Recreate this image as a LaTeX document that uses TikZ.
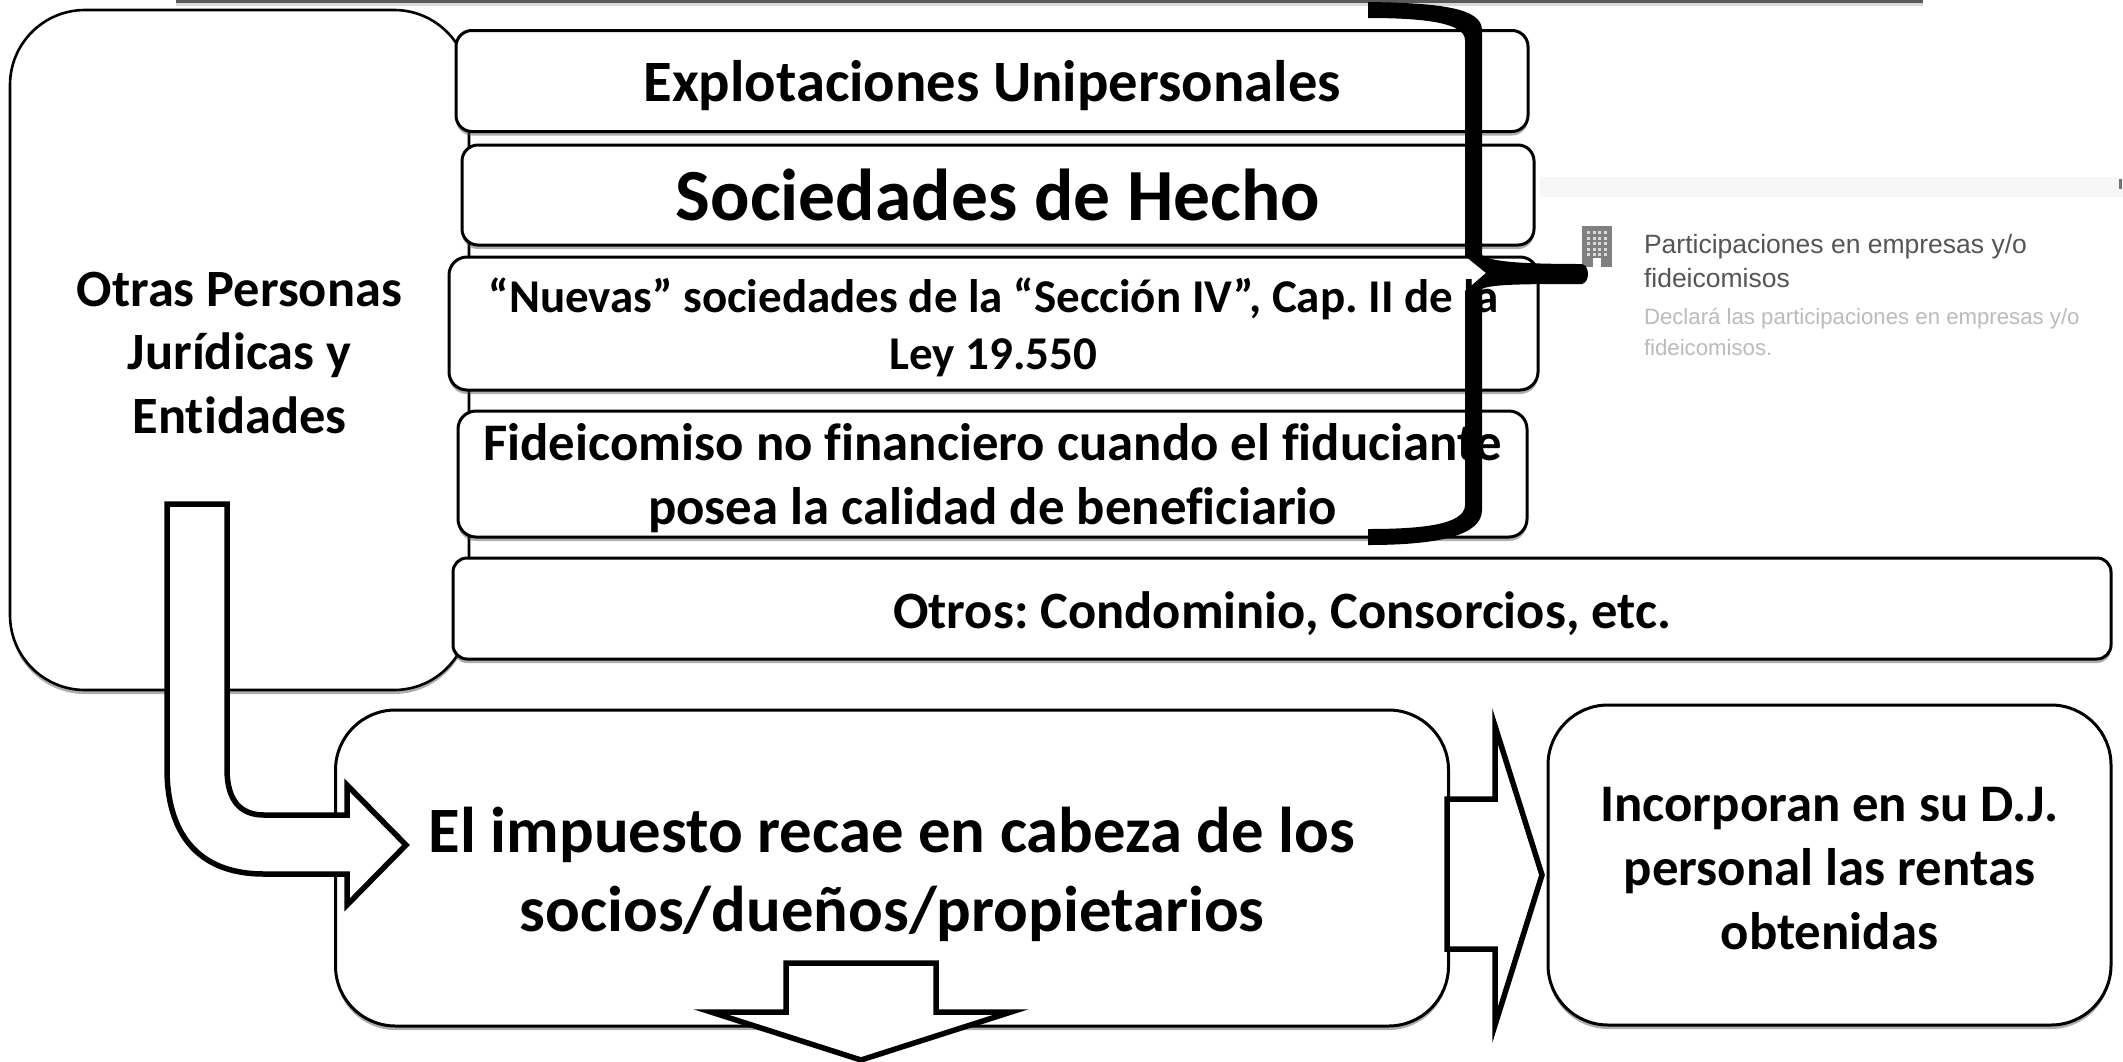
\documentclass[tikz,border=0pt]{standalone}
\usepackage{fontspec}
\setmainfont{Carlito}[Ligatures=CommonOff]
\newfontfamily\uifont{Liberation Sans}
\usetikzlibrary{shadows}
\definecolor{uidark}{HTML}{555555}
\definecolor{uilight}{HTML}{BBBBBB}
\newcommand{\fs}[2]{\fontsize{#1}{#2}\selectfont}
\frenchspacing
\tikzset{
  every node/.style={inner sep=0pt,outer sep=0pt},
  box/.style={draw=black,line width=3pt,fill=white,
    drop shadow={shadow xshift=0pt,shadow yshift=-4pt,opacity=.45,fill=black!70}},
  boxtext/.style={align=center,text=black},
  blockarrow/.style={draw=black,fill=white,line width=5.5pt,line join=miter},
  uitext/.style={anchor=west,align=left}
}
\begin{document}
\begin{tikzpicture}[x=1pt,y=-1pt]
\useasboundingbox (0,0) rectangle (2123,1061);
\fill[white] (0,0) rectangle (2123,1061);
% strip at the top edge
\fill[black!15] (176,0) rectangle (1923,6);
\fill[black!65] (176,0) rectangle (1923,3);
% screenshot band
\fill[black!3] (1540,177) rectangle (2123,197);
\fill[black!55] (2119,179) rectangle (2122,189);
% left box
\node[box,line width=2.6pt,minimum width=459pt,minimum height=680pt,rounded corners=75pt] (otras) at (239.5,350) {};
\node[boxtext,font=\bfseries\fs{52.4}{63.5}] (otrastxt) at ([yshift=-3pt]otras.center) {Otras Personas\\Jurídicas y\\Entidades};
% stacked boxes
\node[box,minimum width=1072pt,minimum height=101pt,rounded corners=16pt] (expl) at (992,81) {};
\node[boxtext,font=\bfseries\fs{58.6}{60}] (expltxt) at ([yshift=-5pt]expl.center) {Explotaciones Unipersonales};
\node[box,minimum width=1072pt,minimum height=100pt,rounded corners=16pt] (soc) at (998,195) {};
\node[boxtext,font=\bfseries\fs{73.5}{75}] (soctxt) at (soc.center) {Sociedades de Hecho};
\node[box,minimum width=1089pt,minimum height=133pt,rounded corners=18pt] (nuev) at (993.5,323.5) {};
\node[boxtext,font=\bfseries\fs{47}{57}] (nuevtxt) at ([yshift=-4pt]nuev.center) {“Nuevas” sociedades de la “Sección IV”, Cap. II de la\\Ley 19.550};
\node[box,minimum width=1069pt,minimum height=126pt,rounded corners=18pt] (fide) at (992.5,474) {};
\node[boxtext,font=\bfseries\fs{52.8}{64}] (fidetxt) at ([yshift=-4pt]fide.center) {Fideicomiso no financiero cuando el fiduciante\\posea la calidad de beneficiario};
\node[box,minimum width=1658pt,minimum height=101pt,rounded corners=14pt] (otros) at (1282,608.5) {};
\node[boxtext,font=\bfseries\fs{52.5}{60}] (otrostxt) at ([yshift=-5pt]otros.center) {Otros: Condominio, Consorcios, etc.};
% lower boxes
\node[box,minimum width=1113pt,minimum height=316pt,rounded corners=60pt] (imp) at (892,868) {};
\node[boxtext,font=\bfseries\fs{64.7}{79}] (imptxt) at ([yshift=-6pt]imp.center) {El impuesto recae en cabeza de los\\socios/dueños/propietarios};
\node[box,minimum width=563pt,minimum height=320pt,rounded corners=60pt] (inc) at (1829.5,865) {};
\node[boxtext,font=\bfseries\fs{52.8}{64}] (inctxt) at ([yshift=-4pt]inc.center) {Incorporan en su D.J.\\personal las rentas\\obtenidas};
% block arrows
\draw[blockarrow] (167,504) -- (227,504) -- (227,769)
  .. controls (227,800) and (240,815) .. (264,815)
  -- (347,815) -- (347,785) -- (406,845) -- (347,905) -- (347,874) -- (264,874)
  .. controls (195,874) and (167,830) .. (167,769) -- cycle;
\draw[blockarrow] (1447,799) -- (1495,799) -- (1495,726) -- (1542,875) -- (1495,1025) -- (1495,949) -- (1447,949) -- cycle;
\draw[blockarrow] (786,963) -- (936,963) -- (936,1012) -- (1011,1012) -- (861,1060) -- (711,1012) -- (786,1012) -- cycle;
% screenshot texts
\node[uitext,text=uidark,font=\uifont\fs{26.5}{34}] (part) at (1644,261) {Participaciones en empresas y/o\\fideicomisos};
\node[uitext,text=uilight,font=\uifont\fs{22.2}{31}] (decl) at (1644,332) {Declará las participaciones en empresas y/o\\fideicomisos.};
% building icon
\fill[black!50] (1582,226) rectangle (1612,267);
\foreach \ix in {0,1,2,3} \foreach \iy in {0,1,2,3,4}
  \fill[black!15] (1587+5.5*\ix,231+5.5*\iy) rectangle ++(3,3);
\fill[white] (1593,258) rectangle (1601,267);
% brace
\fill[black,line join=round] (1368,2) .. controls (1440,3) and (1482,8) .. (1482,30)
  -- (1482,255) .. controls (1490,262) and (1525,264) .. (1582,264)
  .. controls (1590,266) and (1590,282) .. (1582,284)
  .. controls (1530,284) and (1490,284) .. (1482,289)
  -- (1482,510) .. controls (1482,535) and (1440,545) .. (1368,545)
  -- (1368,529) .. controls (1420,529) and (1465,525) .. (1465,505)
  -- (1465,291) -- (1486,273) -- (1465,256) -- (1465,40)
  .. controls (1465,22) and (1420,18) .. (1368,18) -- cycle;
\end{tikzpicture}
\end{document}
